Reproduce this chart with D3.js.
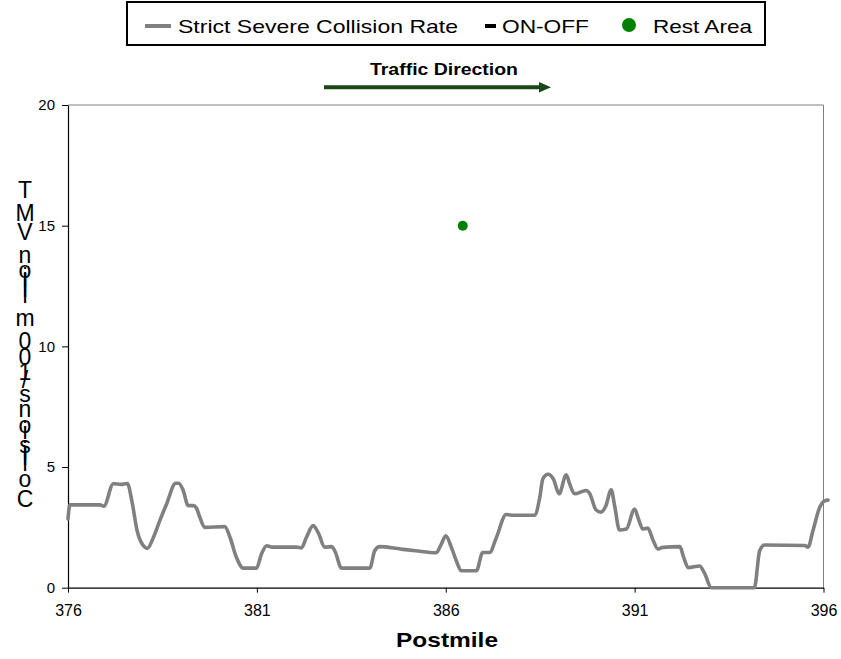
<!DOCTYPE html>
<html><head><meta charset="utf-8">
<script src="https://cdn.jsdelivr.net/npm/d3@7"></script>
<style>body{margin:0;background:#fff}svg{display:block}text{font-family:Arial,"Liberation Sans",sans-serif}</style>
</head><body><svg id="c" width="841" height="659"></svg>
<script>
const postmile = [376.0,376.05,376.85,376.95,377.2,377.4,377.57,377.69,377.83,378.04,378.1,378.26,378.43,378.61,378.85,378.93,379.05,379.18,379.32,379.4,379.49,379.62,380.15,380.29,380.46,380.64,380.99,381.12,381.26,381.4,382.05,382.18,382.31,382.49,382.62,382.8,382.98,383.07,383.24,383.99,384.12,384.25,384.8,385.2,385.75,385.88,386.0,386.15,386.28,386.41,386.81,386.98,387.16,387.34,387.6,387.8,388.35,388.49,388.57,388.71,388.85,389.0,389.19,389.28,389.41,389.72,389.81,389.98,390.11,390.24,390.38,390.47,390.6,390.78,391.0,391.09,391.22,391.35,391.48,391.62,391.75,392.2,392.29,392.42,392.72,392.85,393.03,394.17,394.31,394.44,395.5,395.59,395.72,395.9,396.03,396.12];
const severeRate = [2.85,3.43,3.43,3.38,4.31,4.28,4.32,3.6,2.36,1.67,1.63,2.08,2.78,3.47,4.33,4.33,4.03,3.4,3.4,3.3,2.92,2.5,2.53,2.08,1.25,0.81,0.81,1.39,1.74,1.68,1.68,1.65,2.08,2.57,2.29,1.68,1.7,1.5,0.81,0.81,1.53,1.7,1.6,1.53,1.45,1.8,2.15,1.67,1.11,0.7,0.7,1.46,1.46,2.08,3.03,3.0,3.0,3.75,4.51,4.7,4.5,3.89,4.68,4.3,3.89,4.03,3.9,3.22,3.13,3.4,4.06,3.4,2.39,2.43,3.26,2.9,2.43,2.47,2.0,1.6,1.67,1.7,1.3,0.83,0.9,0.6,0.0,0.0,1.53,1.77,1.75,1.68,2.36,3.33,3.6,3.63];
const onOffPostmile = [];
const onOffValue = [];
const restAreaPostmile = [386.45];
const restAreaValue = [15];
const xTicks = [376,381,386,391,396];
const yTicks = [0,5,10,15,20];
const legendLabels = ["Strict Severe Collision Rate","ON-OFF","Rest Area"];
const yTitle = "Collisions/100 million VMT";
const xTitle = "Postmile";
const directionLabel = "Traffic Direction";

const svg = d3.select("#c");
const L=68, R=823.5, T=105, B=587.7;
const x = d3.scaleLinear().domain([376,396]).range([L,R]);
const y = d3.scaleLinear().domain([0,20]).range([B,T]);

// plot border (top/right gray)
svg.append("path").attr("d",`M${L},${T}H${R}V${B}`).attr("fill","none").attr("stroke","#808080").attr("stroke-width",1);

// axes
const ya = svg.append("g").attr("transform",`translate(${L},0)`)
  .call(d3.axisLeft(y).tickValues(yTicks).tickSize(6).tickPadding(7).tickSizeOuter(0));
const xa = svg.append("g").attr("transform",`translate(0,${B})`)
  .call(d3.axisBottom(x).tickValues(xTicks).tickSize(5).tickPadding(12).tickSizeOuter(0).tickFormat(d3.format("d")));
[ya,xa].forEach(g=>{g.select(".domain").attr("stroke","#000").attr("stroke-width",1.2);
  g.selectAll(".tick line").attr("stroke","#000");
  g.selectAll("text").attr("fill","#000").style("font-family","Arial, 'Liberation Sans', sans-serif");});
ya.selectAll("text").style("font-size","15px");
xa.selectAll("text").style("font-size","16px");

// series line
const pts = postmile.map((p,i)=>[p,severeRate[i]]);
svg.append("path").datum(pts)
  .attr("d",d3.line().x(d=>x(d[0])).y(d=>y(d[1])).curve(d3.curveMonotoneX))
  .attr("fill","none").attr("stroke","#808080").attr("stroke-width",3.6).attr("stroke-linejoin","round").attr("stroke-linecap","round");

// on-off (none)
svg.append("g").selectAll("rect").data(onOffPostmile).join("rect")
  .attr("x",d=>x(d)-4).attr("y",(d,i)=>y(onOffValue[i])-1.5).attr("width",8).attr("height",3).attr("fill","#000");

// rest area
svg.append("g").selectAll("circle").data(restAreaPostmile).join("circle")
  .attr("cx",d=>x(d)).attr("cy",(d,i)=>y(restAreaValue[i])).attr("r",5).attr("fill","#008000");

// y title: upright glyphs stacked by advance
const yt = svg.append("g");
const fs = 23;
const chars = yTitle.split("");
const meas = svg.append("text").style("font-size",fs+"px").attr("x",-100).attr("y",-100);
const adv = chars.map(c=>{ if(c===" ") return fs*0.278; meas.text(c); return meas.node().getComputedTextLength(); });
meas.remove();
const totalAdv = d3.sum(adv.slice(0,-1));
const yBottom = 507, yTop = 198;
const k = (yBottom-yTop)/totalAdv;
let cum=0;
chars.forEach((c,i)=>{
  yt.append("text").attr("x",25).attr("y",yBottom - k*cum).attr("text-anchor","middle")
    .style("font-size",fs+"px").attr("fill","#000").text(c);
  cum += adv[i];
});

// x title
svg.append("text").attr("x",447).attr("y",647).attr("text-anchor","middle")
  .style("font-size","21px").style("font-weight","bold").attr("textLength",102).attr("lengthAdjust","spacingAndGlyphs").text(xTitle);

// traffic direction
svg.append("text").attr("x",444).attr("y",75).attr("text-anchor","middle")
  .style("font-size","17px").style("font-weight","bold").attr("textLength",148).attr("lengthAdjust","spacingAndGlyphs").text(directionLabel);
svg.append("line").attr("x1",324).attr("x2",541).attr("y1",87.3).attr("y2",87.3).attr("stroke","#174717").attr("stroke-width",4);
svg.append("path").attr("d","M539,82 L551,87.3 L539,92.6 Z").attr("fill","#174717");

// legend
const lg = svg.append("g");
lg.append("rect").attr("x",127).attr("y",2).attr("width",638).attr("height",43).attr("fill","#fff").attr("stroke","#000").attr("stroke-width",2);
lg.append("line").attr("x1",145).attr("x2",171).attr("y1",26).attr("y2",26).attr("stroke","#808080").attr("stroke-width",4);
lg.append("text").attr("x",178).attr("y",33).style("font-size","19px").attr("textLength",280).attr("lengthAdjust","spacingAndGlyphs").text(legendLabels[0]);
lg.append("rect").attr("x",485).attr("y",24).attr("width",11).attr("height",4).attr("fill","#000");
lg.append("text").attr("x",502).attr("y",33).style("font-size","19px").attr("textLength",87).attr("lengthAdjust","spacingAndGlyphs").text(legendLabels[1]);
lg.append("circle").attr("cx",629).attr("cy",25).attr("r",7).attr("fill","#008000");
lg.append("text").attr("x",653).attr("y",33).style("font-size","19px").attr("textLength",99).attr("lengthAdjust","spacingAndGlyphs").text(legendLabels[2]);
</script></body></html>
